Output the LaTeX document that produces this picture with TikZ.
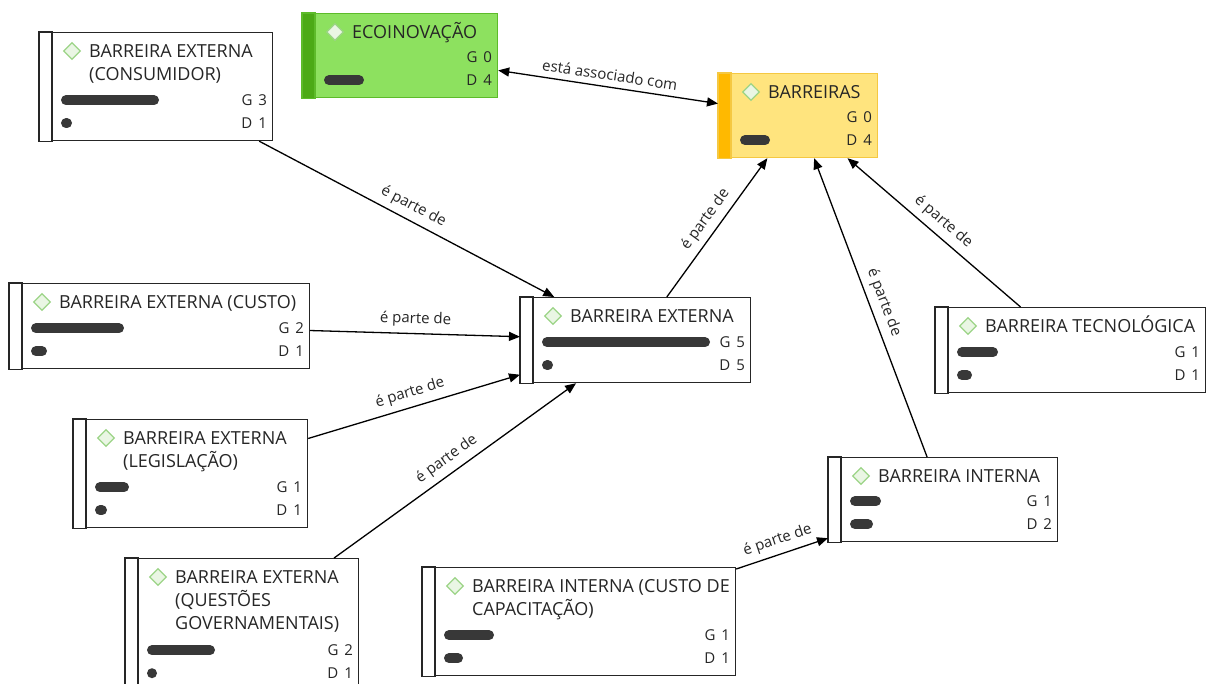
\documentclass[tikz,border=0pt]{standalone}
\usepackage{fontspec}
\setmainfont{Open Sans}
\usetikzlibrary{shapes.geometric,arrows.meta}

\definecolor{eco fill}{HTML}{8DE15F}
\definecolor{eco strip}{HTML}{4CAA16}
\definecolor{eco edge}{HTML}{5DBB2A}
\definecolor{barr fill}{HTML}{FFE47E}
\definecolor{barr strip}{HTML}{FFB900}
\definecolor{barr edge}{HTML}{F5C842}
\definecolor{icon edge}{HTML}{9CD487}
\definecolor{icon fill}{HTML}{EAF6E4}
\colorlet{concept edge}{black!85}
\colorlet{concept text}{black!85}
\colorlet{bar color}{black!78}
\tikzstyle{concept} = [draw, line width=1.2pt, rectangle, anchor=north west, inner sep=0pt]
\tikzstyle{title} = [anchor=base west, inner sep=0pt, font=\fontsize{18}{22}\selectfont, text=concept text]
\tikzstyle{count} = [anchor=east, inner sep=0pt, font=\fontsize{15}{18}\selectfont, text=concept text]
\tikzstyle{icon} = [diamond, draw=icon edge, fill=icon fill, line width=1.3pt, minimum size=17pt, inner sep=0pt]
\tikzstyle{bar} = [line width=10pt, line cap=round, bar color]
\tikzstyle{relation} = [draw, line width=1.3pt, -{Triangle[length=11pt,width=9pt]}]
\tikzstyle{relation label} = [midway, sloped, above, inner sep=6pt, font=\fontsize{15}{18}\selectfont, text=concept text]

\begin{document}
\begin{tikzpicture}[x=1pt, y=-1pt]
    \clip (0,0) rectangle (1207,683);
    \fill[white] (0,0) rectangle (1207,683);

    % the concepts
    \foreach \name/\x/\y/\w/\h/\fillc/\stripc/\edgec/\title/\g/\d/\gb/\db in {
      {eco/302/13/195/84/eco fill/eco strip/eco edge/{ECOINOVAÇÃO}/0/4/0/40},
      {barr/718/73/159/84/barr fill/barr strip/barr edge/{BARREIRAS}/0/4/0/30},
      {cons/39/32/233/108/white/white/concept edge/{BARREIRA EXTERNA, {(CONSUMIDOR)}}/3/1/98/11},
      {custo/9/283/300/85/white/white/concept edge/{BARREIRA EXTERNA (CUSTO)}/2/1/93/16},
      {ext/520/297/230/85/white/white/concept edge/{BARREIRA EXTERNA}/5/5/168/11},
      {legis/73/419/234/108/white/white/concept edge/{BARREIRA EXTERNA, {(LEGISLAÇÃO)}}/1/1/34/12},
      {quest/125/558/233/132/white/white/concept edge/{BARREIRA EXTERNA, {(QUESTÕES}, {GOVERNAMENTAIS)}}/2/1/68/10},
      {capac/422/567/313/108/white/white/concept edge/{BARREIRA INTERNA (CUSTO DE, {CAPACITAÇÃO)}}/1/1/50/19},
      {int/828/457/229/84/white/white/concept edge/{BARREIRA INTERNA}/1/2/31/23},
      {tec/935/307/270/85/white/white/concept edge/{BARREIRA TECNOLÓGICA}/1/1/41/15}} {
      \node[concept, draw=\edgec, fill=\fillc, minimum width=\w pt, minimum height=\h pt] (\name) at (\x,\y) {};
      \path[fill=\stripc, draw=\edgec, line width=1.2pt] (\name.north west) rectangle ([xshift=13pt]\name.south west);
      \node[icon] (\name-icon) at ([shift={(33,19)}]\name.north west) {};
      \foreach \line [count=\i] in \title {
        \node[title] (\name-t\i) at ([shift={(50,{25+23*(\i-1)})}]\name.north west) {\line};
      }
      \node[count] (\name-g) at ([shift={(-6,-41)}]\name.south east) {G\hspace{6pt}\g};
      \node[count] (\name-d) at ([shift={(-6,-18)}]\name.south east) {D\hspace{6pt}\d};
      \ifnum\gb>0
        \draw[bar] ([shift={(27,-41)}]\name.south west) -- ([shift={({17+\gb},-41)}]\name.south west);
      \fi
      \ifnum\db>0
        \draw[bar] ([shift={(27,-18)}]\name.south west) -- ([shift={({max(18,17+\db)},-18)}]\name.south west);
      \fi
    }

    % the connections between them
    \path[relation, {Triangle[length=11pt,width=9pt]}-{Triangle[length=11pt,width=9pt]}] (eco) -- node[relation label] {está associado com} (barr);
    \foreach \source/\sink in {cons/ext, custo/ext, legis/ext, quest/ext, ext/barr, int/barr, tec/barr, capac/int} {
      \path[relation] (\source) -- node[relation label] {é parte de} (\sink);
    }
\end{tikzpicture}
\end{document}
